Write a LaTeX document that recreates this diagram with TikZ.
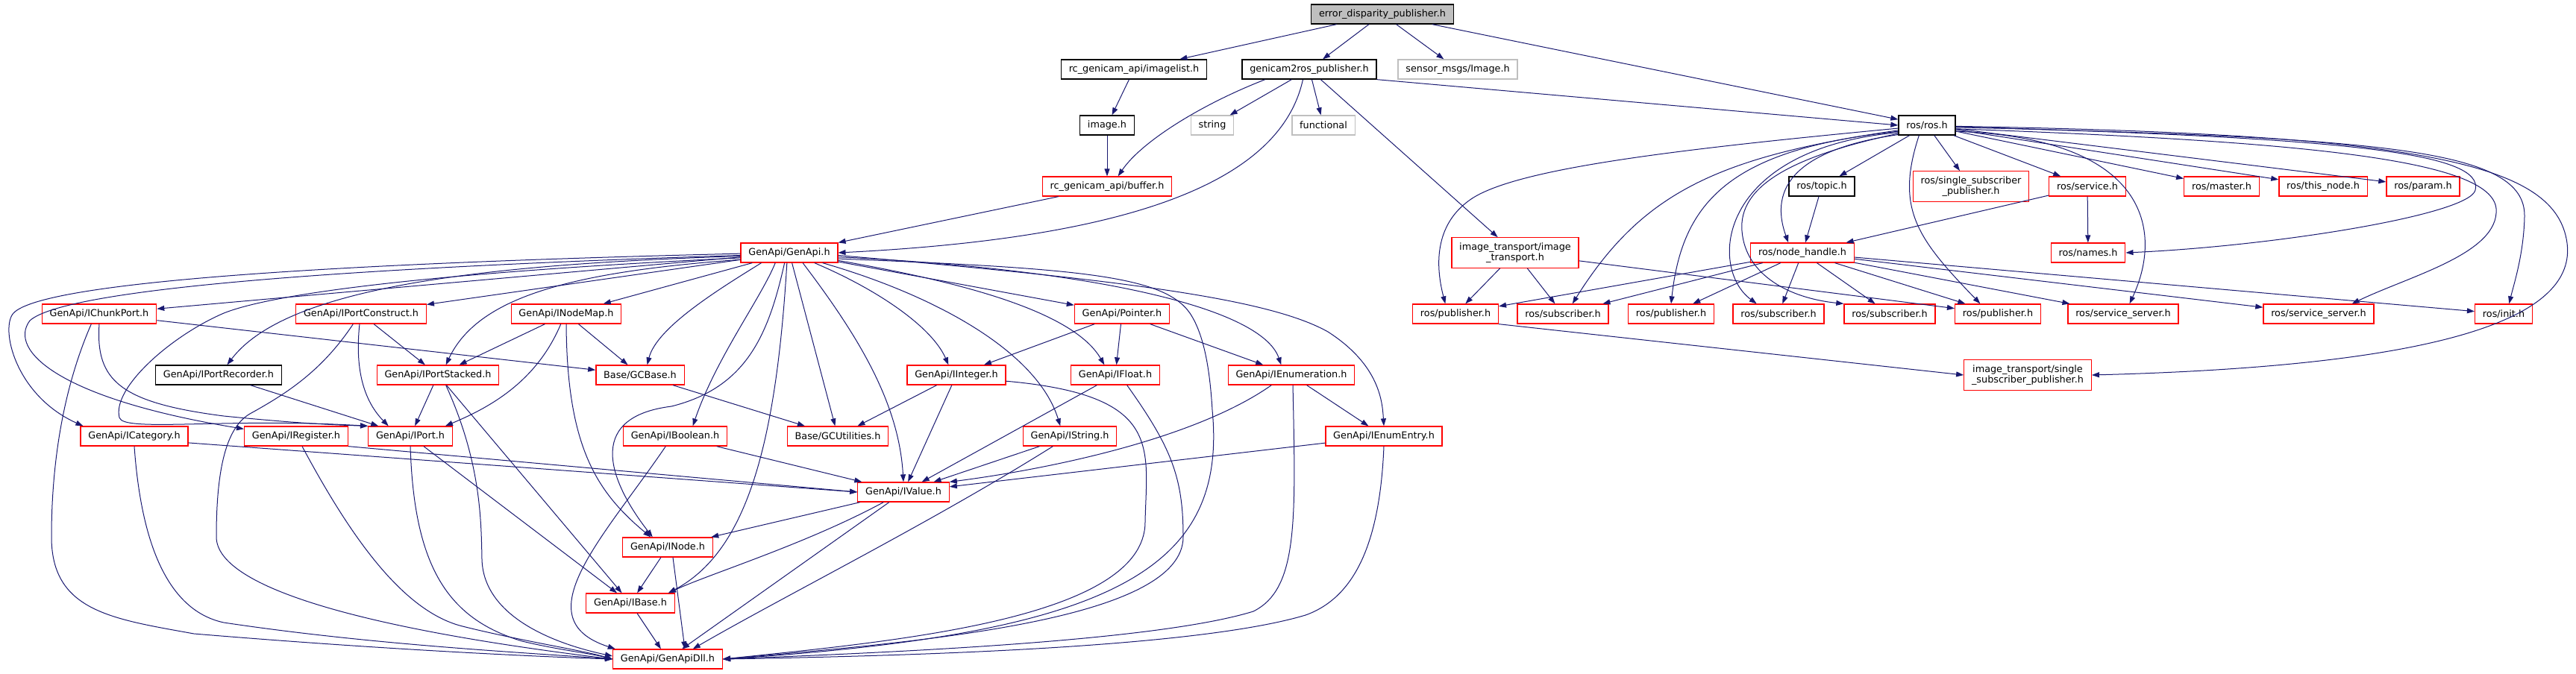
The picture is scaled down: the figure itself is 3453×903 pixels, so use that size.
\documentclass[tikz,border=0pt]{standalone}
\usepackage{fontspec}
\setmainfont{DejaVu Sans}
\usetikzlibrary{arrows.meta}
\definecolor{edgeblue}{RGB}{25,25,112}
\definecolor{sysgrey}{RGB}{191,191,191}

\begin{document}
\begin{tikzpicture}[x=1pt,y=-1pt,
  file/.style={draw,rectangle,line width=1.3pt,minimum height=26pt,inner xsep=10.3pt,inner ysep=6.5pt,align=center,font=\fontsize{12.8}{14.7}\selectfont},
  redfile/.style={file,draw=red},
  blackfile/.style={file,draw=black},
  sysfile/.style={file,draw=sysgrey},
  topfile/.style={file,draw=black,fill=sysgrey},
  incl/.style={draw=edgeblue,line width=1pt,-{Triangle[length=10pt,width=7pt]}}]
	\useasboundingbox (0,0) rectangle (3453,903);

	\node[topfile] (errpub) at (1853,19) {error\_disparity\_publisher.h};
	\node[blackfile] (imagelist) at (1520,93) {rc\_genicam\_api/imagelist.h};
	\node[blackfile] (g2rpub) at (1755,93) {genicam2ros\_publisher.h};
	\node[sysfile] (sensorimg) at (1954,93) {sensor\_msgs/Image.h};
	\node[blackfile] (imageh) at (1484,168) {image.h};
	\node[sysfile] (stringh) at (1625,168) {string};
	\node[sysfile] (functional) at (1774,168) {functional};
	\node[blackfile] (rosros) at (2583,168) {ros/ros.h};
	\node[redfile] (buffer) at (1484,250) {rc\_genicam\_api/buffer.h};
	\node[blackfile] (rostopic) at (2442,250) {ros/topic.h};
	\node[redfile] (rosssp) at (2642,250) {ros/single\_subscriber\\\_publisher.h};
	\node[redfile] (rosservice) at (2798,250) {ros/service.h};
	\node[redfile] (rosmaster) at (2978,250) {ros/master.h};
	\node[redfile] (rosthisnode) at (3114,250) {ros/this\_node.h};
	\node[redfile] (rosparam) at (3248,250) {ros/param.h};
	\node[redfile] (genapi) at (1058,339) {GenApi/GenApi.h};
	\node[redfile] (imgtrans) at (2031,339) {image\_transport/image\\\_transport.h};
	\node[redfile] (nodehandle) at (2416,339) {ros/node\_handle.h};
	\node[redfile] (rosnames) at (2799,339) {ros/names.h};
	\node[redfile] (ichunkport) at (133,421) {GenApi/IChunkPort.h};
	\node[redfile] (iportconstruct) at (484,421) {GenApi/IPortConstruct.h};
	\node[redfile] (inodemap) at (759,421) {GenApi/INodeMap.h};
	\node[redfile] (ipointer) at (1504,421) {GenApi/Pointer.h};
	\node[redfile] (pubA) at (1951,421) {ros/publisher.h};
	\node[redfile] (subA) at (2095,421) {ros/subscriber.h};
	\node[redfile] (pubB) at (2240,421) {ros/publisher.h};
	\node[redfile] (subB) at (2384,421) {ros/subscriber.h};
	\node[redfile] (subC) at (2533,421) {ros/subscriber.h};
	\node[redfile] (pubC) at (2678,421) {ros/publisher.h};
	\node[redfile] (srvA) at (2846,421) {ros/service\_server.h};
	\node[redfile] (srvB) at (3108,421) {ros/service\_server.h};
	\node[redfile] (rosinit) at (3356,421) {ros/init.h};
	\node[blackfile] (iportrecorder) at (293,503) {GenApi/IPortRecorder.h};
	\node[redfile] (iportstacked) at (587,503) {GenApi/IPortStacked.h};
	\node[redfile] (igcbase) at (858,503) {Base/GCBase.h};
	\node[redfile] (iinteger) at (1282,503) {GenApi/IInteger.h};
	\node[redfile] (ifloat) at (1495,503) {GenApi/IFloat.h};
	\node[redfile] (ienum) at (1731,503) {GenApi/IEnumeration.h};
	\node[redfile] (itsingle) at (2718,503) {image\_transport/single\\\_subscriber\_publisher.h};
	\node[redfile] (icategory) at (180,585) {GenApi/ICategory.h};
	\node[redfile] (iregister) at (397,585) {GenApi/IRegister.h};
	\node[redfile] (iport) at (550,585) {GenApi/IPort.h};
	\node[redfile] (iboolean) at (905,585) {GenApi/IBoolean.h};
	\node[redfile] (igcutil) at (1123,585) {Base/GCUtilities.h};
	\node[redfile] (istring) at (1434,585) {GenApi/IString.h};
	\node[redfile] (ienumentry) at (1855,585) {GenApi/IEnumEntry.h};
	\node[redfile] (ivalue) at (1211,660) {GenApi/IValue.h};
	\node[redfile] (inode) at (895,734) {GenApi/INode.h};
	\node[redfile] (ibase) at (845,809) {GenApi/IBase.h};
	\node[redfile] (igenapidll) at (895,884) {GenApi/GenApiDll.h};

	\draw[incl] (errpub) -- (imagelist);
	\draw[incl] (errpub) -- (g2rpub);
	\draw[incl] (errpub) -- (sensorimg);
	\draw[incl] (errpub) -- (rosros);
	\draw[incl] (imagelist) -- (imageh);
	\draw[incl] (imageh) -- (buffer);
	\draw[incl] (g2rpub.193) .. controls (1610,140) and (1530,190) .. (buffer.43);
	\draw[incl] (g2rpub) -- (stringh);
	\draw[incl] (g2rpub) -- (functional);
	\draw[incl] (g2rpub.238) .. controls (1715,250) and (1500,320) .. (genapi.east);
	\draw[incl] (g2rpub) -- (imgtrans);
	\draw[incl] (g2rpub.south east) -- (rosros.west);
	\draw[incl] (buffer) -- (genapi);

	\draw[incl] (rosros) -- (rostopic);
	\draw[incl] (rosros) -- (rosssp);
	\draw[incl] (rosros) -- (rosservice);
	\draw[incl] (rosros) -- (rosmaster);
	\draw[incl] (rosros) -- (rosthisnode);
	\draw[incl] (rosros) -- (rosparam);
	\draw[incl] (rosros.357) .. controls (3150,185) and (3330,205) .. (3318,255) .. controls (3310,288) and (3050,330) .. (rosnames.east);
	\draw[incl] (rosros.348) .. controls (2880,185) and (2900,310) .. (srvA.58);
	\draw[incl] (rosros.353) .. controls (3100,190) and (3340,215) .. (3346,280) .. controls (3350,340) and (3230,370) .. (srvB.17);
	\draw[incl] (rosros.356) .. controls (3200,185) and (3385,200) .. (3384,290) .. controls (3383,340) and (3370,380) .. (rosinit.62);
	\draw[incl] (rosros.358) .. controls (3250,180) and (3420,220) .. (3440,320) .. controls (3460,420) and (3300,490) .. (itsingle.east);
	\draw[incl] (rosros.186) .. controls (2250,200) and (2040,225) .. (1975,265) .. controls (1920,300) and (1925,360) .. (pubA.135);
	\draw[incl] (rosros.190) .. controls (2300,210) and (2200,260) .. (subA.47);
	\draw[incl] (rosros.192) .. controls (2320,200) and (2255,270) .. (pubB.north);
	\draw[incl] (rosros.194) .. controls (2300,200) and (2290,360) .. (subB.155);
	\draw[incl] (rosros.196) .. controls (2400,210) and (2330,250) .. (2335,310) .. controls (2340,370) and (2400,400) .. (subC.north west);
	\draw[incl] (rosros.198) .. controls (2410,200) and (2370,250) .. (nodehandle.144);
	\draw[incl] (rosros.232) .. controls (2540,280) and (2570,320) .. (pubC.150);
	\draw[incl] (rostopic) -- (nodehandle);
	\draw[incl] (rosservice) -- (nodehandle);
	\draw[incl] (rosservice) -- (rosnames);
	\draw[incl] (nodehandle) -- (pubA);
	\draw[incl] (nodehandle) -- (subA);
	\draw[incl] (nodehandle) -- (pubB);
	\draw[incl] (nodehandle) -- (subB);
	\draw[incl] (nodehandle) -- (subC);
	\draw[incl] (nodehandle) -- (pubC);
	\draw[incl] (nodehandle) -- (srvA);
	\draw[incl] (nodehandle) -- (srvB);
	\draw[incl] (nodehandle) -- (rosinit);
	\draw[incl] (imgtrans) -- (pubA);
	\draw[incl] (imgtrans) -- (subA);
	\draw[incl] (imgtrans) -- (pubC);
	\draw[incl] (pubA.south east) -- (itsingle.west);

	\draw[incl] (genapi) -- (ichunkport);
	\draw[incl] (genapi) -- (iportconstruct);
	\draw[incl] (genapi) -- (inodemap);
	\draw[incl] (genapi.184) .. controls (620,355) and (380,390) .. (iportrecorder.50);
	\draw[incl] (genapi.188) .. controls (760,365) and (640,400) .. (iportstacked.52);
	\draw[incl] (genapi.200) .. controls (960,390) and (880,440) .. (igcbase.55);
	\draw[incl] (genapi.181) .. controls (500,352) and (60,375) .. (18,420) .. controls (0,440) and (20,530) .. ([xshift=4pt]icategory.north west);
	\draw[incl] (genapi.183) .. controls (500,358) and (90,385) .. (40,430) .. controls (10,470) and (80,535) .. ([yshift=-4pt]iregister.north west);
	\draw[incl] (genapi.186) .. controls (650,362) and (380,388) .. (300,420) .. controls (230,450) and (150,520) .. (160,560) .. controls (165,580) and (300,560) .. (iport.north west);
	\draw[incl] (genapi.216) .. controls (1020,400) and (960,480) .. (iboolean.30);
	\draw[incl] (genapi.245) .. controls (1030,450) and (1000,520) .. (900,545) .. controls (780,560) and (820,650) .. (inode.146);
	\draw[incl] (genapi.257) .. controls (1040,600) and (1000,740) .. (ibase.15);
	\draw[incl] (genapi) -- (igcutil);
	\draw[incl] (genapi.323) .. controls (1150,450) and (1205,540) .. (ivalue.north);
	\draw[incl] (genapi.338) .. controls (1180,390) and (1250,440) .. (iinteger.128);
	\draw[incl] (genapi.343) .. controls (1250,395) and (1390,470) .. (istring.133);
	\draw[incl] (genapi) -- (ipointer);
	\draw[incl] (genapi.351) .. controls (1300,380) and (1440,420) .. (ifloat.137);
	\draw[incl] (genapi.355) .. controls (1450,360) and (1690,410) .. (ienum.135);
	\draw[incl] (genapi.357) .. controls (1500,375) and (1700,400) .. (1780,445) .. controls (1850,490) and (1853,540) .. (ienumentry.north);
	\draw[incl] (genapi.353) .. controls (1450,360) and (1560,370) .. (1595,420) .. controls (1615,450) and (1622,500) .. (1625,550) .. controls (1645,760) and (1500,850) .. (igenapidll.east);

	\draw[incl] (ipointer) -- (iinteger);
	\draw[incl] (ipointer) -- (ifloat);
	\draw[incl] (ipointer) -- (ienum);
	\draw[incl] (iinteger) -- (igcutil);
	\draw[incl] (iinteger) -- (ivalue);
	\draw[incl] (iinteger.353) .. controls (1560,530) and (1537,600) .. (1535,700) .. controls (1535,830) and (1200,860) .. (igenapidll.east);
	\draw[incl] (ifloat) -- (ivalue);
	\draw[incl] (ifloat.319) .. controls (1570,600) and (1586,640) .. (1586,720) .. controls (1586,830) and (1250,860) .. (igenapidll.east);
	\draw[incl] (ienum.207) .. controls (1600,590) and (1400,630) .. (ivalue.north east);
	\draw[incl] (ienum) -- (ienumentry);
	\draw[incl] ([xshift=2pt]ienum.south) .. controls (1737,700) and (1740,790) .. (1680,820) .. controls (1550,860) and (1200,875) .. (igenapidll.east);
	\draw[incl] (ienumentry) -- (ivalue);
	\draw[incl] (ienumentry.south) .. controls (1850,720) and (1820,800) .. (1750,825) .. controls (1600,870) and (1200,880) .. (igenapidll.east);
	\draw[incl] (istring) -- (ivalue);
	\draw[incl] (istring.211) .. controls (1250,700) and (1050,800) .. (igenapidll.22);
	\draw[incl] (iboolean) -- (ivalue);
	\draw[incl] (iboolean.227) .. controls (810,720) and (700,830) .. (igenapidll.169);
	\draw[incl] (igcbase) -- (igcutil);

	\draw[incl] (ichunkport) -- (igcbase);
	\draw[incl] (ichunkport.south) .. controls (128,510) and (160,540) .. (300,558) .. controls (400,568) and (450,570) .. (iport.north west);
	\draw[incl] (ichunkport.232) .. controls (85,520) and (69,620) .. (69,720) .. controls (69,820) and (150,830) .. (260,850) .. controls (500,870) and (700,880) .. (igenapidll.west);
	\draw[incl] (iportconstruct) -- (iportstacked);
	\draw[incl] ([xshift=-2pt]iportconstruct.south) .. controls (475,500) and (490,540) .. (iport.155);
	\draw[incl] (iportconstruct.232) .. controls (430,500) and (380,530) .. (335,555) .. controls (300,575) and (290,640) .. (290,720) .. controls (290,790) and (500,845) .. (igenapidll.west);
	\draw[incl] (inodemap) -- (iportstacked);
	\draw[incl] (inodemap) -- (igcbase);
	\draw[incl] (inodemap.242) .. controls (720,510) and (660,545) .. ([xshift=-10pt]iport.north east);
	\draw[incl] (inodemap.south) .. controls (760,600) and (800,660) .. (inode.149);
	\draw[incl] (iportstacked) -- (iport);
	\draw[incl] (iportstacked) -- (ibase);
	\draw[incl] (iportstacked.308) .. controls (645,620) and (645,700) .. (646,750) .. controls (648,830) and (750,865) .. ([yshift=4pt]igenapidll.west);
	\draw[incl] (iportrecorder) -- (iport);
	\draw[incl] (icategory.353) -- (ivalue.west);
	\draw[incl] (iregister.south east) -- (ivalue.west);
	\draw[incl] (icategory.south) .. controls (190,740) and (230,820) .. (300,835) .. controls (500,865) and (700,875) .. (igenapidll.west);
	\draw[incl] ([xshift=8pt]iregister.south) .. controls (470,720) and (540,820) .. (620,840) .. controls (700,860) and (780,872) .. (igenapidll.west);
	\draw[incl] (iport) -- (ibase);
	\draw[incl] (iport.south) .. controls (555,760) and (600,830) .. (700,860) .. controls (750,872) and (790,876) .. (igenapidll.west);
	\draw[incl] (ivalue) -- (inode);
	\draw[incl] (ivalue.207) .. controls (1080,730) and (950,770) .. (ibase.15);
	\draw[incl] (ivalue) -- (igenapidll);
	\draw[incl] (inode) -- (ibase);
	\draw[incl] ([xshift=7pt]inode.south) -- ([xshift=23pt]igenapidll.north);
	\draw[incl] (ibase) -- (igenapidll);
\end{tikzpicture}
\end{document}
